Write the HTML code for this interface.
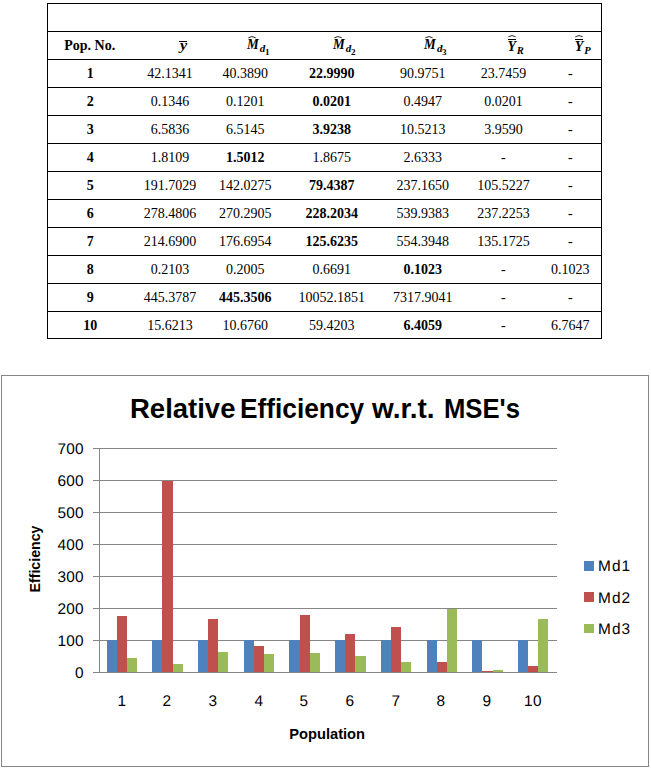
<!DOCTYPE html>
<html><head><meta charset="utf-8"><title>Table and chart</title>
<style>
html,body{margin:0;padding:0;background:#fff;}
body{width:651px;height:769px;position:relative;overflow:hidden;font-family:"Liberation Serif",serif;color:#000;}
.abs{position:absolute;}
.hl{position:absolute;left:47px;width:555px;height:1px;background:#000;}
.vl{position:absolute;top:3px;width:1px;height:336px;background:#000;}
.c{position:absolute;width:100px;margin-left:-50px;text-align:center;font-size:14px;line-height:16px;white-space:nowrap;}
.b{font-weight:bold;}
.bi{font-weight:bold;font-style:italic;}
.ax{position:absolute;font-family:"Liberation Sans",sans-serif;font-size:15.4px;letter-spacing:0.3px;line-height:18px;transform:rotate(0.03deg);transform-origin:50% 50%;color:#000;white-space:nowrap;}
.yl{width:40px;text-align:right;left:44px;}
.xl{width:40px;margin-left:-20px;text-align:center;top:691.66px;}
.g{position:absolute;left:93px;width:464px;height:1px;background:#868686;}
.bar{position:absolute;}
svg{position:absolute;overflow:visible;}
</style></head><body>

<div class="hl" style="top:3px"></div>
<div class="hl" style="top:31px"></div>
<div class="hl" style="top:59px"></div>
<div class="hl" style="top:87px"></div>
<div class="hl" style="top:115px"></div>
<div class="hl" style="top:143px"></div>
<div class="hl" style="top:171px"></div>
<div class="hl" style="top:199px"></div>
<div class="hl" style="top:227px"></div>
<div class="hl" style="top:255px"></div>
<div class="hl" style="top:283px"></div>
<div class="hl" style="top:311px"></div>
<div class="hl" style="top:338px"></div>
<div class="vl" style="left:47px"></div><div class="vl" style="left:601px"></div>
<div class="c b" style="left:89.7px;top:38px">Pop. No.</div>
<div class="abs" style="left:180.20px;top:37.21px;font-size:14.5px;line-height:17px;white-space:nowrap;font-weight:bold;font-style:italic;transform:scaleX(1.12);transform-origin:0 0;">y</div>
<div class="abs" style="left:179px;top:41px;width:8px;height:1px;background:#000"></div>
<div class="abs" style="left:246.90px;top:36.07px;font-size:14px;line-height:17px;white-space:nowrap;font-weight:bold;font-style:italic;transform:scaleX(0.94);transform-origin:0 0;">M</div>
<svg style="left:248.1px;top:34.5px" width="9" height="4" viewBox="0 0 9 4"><path d="M0.3 2.8 Q4 0.3 7.7 2.8" fill="none" stroke="#000" stroke-width="0.85"/></svg>
<div class="abs" style="left:259.80px;top:42.09px;font-size:11px;line-height:13px;white-space:nowrap;font-weight:bold;font-style:italic;">d</div>
<div class="abs" style="left:265.10px;top:47.54px;font-size:7.6px;line-height:9px;white-space:nowrap;font-weight:bold;transform:scaleX(1.2);transform-origin:0 0;">1</div>
<div class="abs" style="left:332.90px;top:36.07px;font-size:14px;line-height:17px;white-space:nowrap;font-weight:bold;font-style:italic;transform:scaleX(0.94);transform-origin:0 0;">M</div>
<svg style="left:334.1px;top:34.5px" width="9" height="4" viewBox="0 0 9 4"><path d="M0.3 2.8 Q4 0.3 7.7 2.8" fill="none" stroke="#000" stroke-width="0.85"/></svg>
<div class="abs" style="left:345.80px;top:42.09px;font-size:11px;line-height:13px;white-space:nowrap;font-weight:bold;font-style:italic;">d</div>
<div class="abs" style="left:351.10px;top:47.54px;font-size:7.6px;line-height:9px;white-space:nowrap;font-weight:bold;transform:scaleX(1.2);transform-origin:0 0;">2</div>
<div class="abs" style="left:424.00px;top:36.07px;font-size:14px;line-height:17px;white-space:nowrap;font-weight:bold;font-style:italic;transform:scaleX(0.94);transform-origin:0 0;">M</div>
<svg style="left:425.2px;top:34.5px" width="9" height="4" viewBox="0 0 9 4"><path d="M0.3 2.8 Q4 0.3 7.7 2.8" fill="none" stroke="#000" stroke-width="0.85"/></svg>
<div class="abs" style="left:436.90px;top:42.09px;font-size:11px;line-height:13px;white-space:nowrap;font-weight:bold;font-style:italic;">d</div>
<div class="abs" style="left:442.20px;top:47.54px;font-size:7.6px;line-height:9px;white-space:nowrap;font-weight:bold;transform:scaleX(1.2);transform-origin:0 0;">3</div>
<div class="abs" style="left:507.40px;top:37.77px;font-size:14px;line-height:17px;white-space:nowrap;font-weight:bold;font-style:italic;">Y</div>
<div class="abs" style="left:508.0px;top:39px;width:8px;height:1px;background:#000"></div>
<svg style="left:508.0px;top:33.9px" width="9" height="4" viewBox="0 0 9 4"><path d="M0.3 2.8 Q4 0.3 7.7 2.8" fill="none" stroke="#000" stroke-width="0.85"/></svg>
<div class="abs" style="left:516.80px;top:44.46px;font-size:10.5px;line-height:13px;white-space:nowrap;font-weight:bold;font-style:italic;">R</div>
<div class="abs" style="left:574.80px;top:37.77px;font-size:14px;line-height:17px;white-space:nowrap;font-weight:bold;font-style:italic;">Y</div>
<div class="abs" style="left:575.4px;top:39px;width:8px;height:1px;background:#000"></div>
<svg style="left:575.4px;top:33.9px" width="9" height="4" viewBox="0 0 9 4"><path d="M0.3 2.8 Q4 0.3 7.7 2.8" fill="none" stroke="#000" stroke-width="0.85"/></svg>
<div class="abs" style="left:584.20px;top:44.46px;font-size:10.5px;line-height:13px;white-space:nowrap;font-weight:bold;font-style:italic;">P</div>
<div class="c b" style="left:90.3px;top:66px">1</div>
<div class="c" style="left:169.9px;top:66px">42.1341</div>
<div class="c" style="left:245.2px;top:66px">40.3890</div>
<div class="c b" style="left:331.7px;top:66px">22.9990</div>
<div class="c" style="left:422.7px;top:66px">90.9751</div>
<div class="c" style="left:503.4px;top:66px">23.7459</div>
<div class="c" style="left:570.3px;top:66px">-</div>
<div class="c b" style="left:90.3px;top:94px">2</div>
<div class="c" style="left:169.9px;top:94px">0.1346</div>
<div class="c" style="left:245.2px;top:94px">0.1201</div>
<div class="c b" style="left:331.7px;top:94px">0.0201</div>
<div class="c" style="left:422.7px;top:94px">0.4947</div>
<div class="c" style="left:503.4px;top:94px">0.0201</div>
<div class="c" style="left:570.3px;top:94px">-</div>
<div class="c b" style="left:90.3px;top:122px">3</div>
<div class="c" style="left:169.9px;top:122px">6.5836</div>
<div class="c" style="left:245.2px;top:122px">6.5145</div>
<div class="c b" style="left:331.7px;top:122px">3.9238</div>
<div class="c" style="left:422.7px;top:122px">10.5213</div>
<div class="c" style="left:503.4px;top:122px">3.9590</div>
<div class="c" style="left:570.3px;top:122px">-</div>
<div class="c b" style="left:90.3px;top:150px">4</div>
<div class="c" style="left:169.9px;top:150px">1.8109</div>
<div class="c b" style="left:245.2px;top:150px">1.5012</div>
<div class="c" style="left:331.7px;top:150px">1.8675</div>
<div class="c" style="left:422.7px;top:150px">2.6333</div>
<div class="c" style="left:503.4px;top:150px">-</div>
<div class="c" style="left:570.3px;top:150px">-</div>
<div class="c b" style="left:90.3px;top:178px">5</div>
<div class="c" style="left:169.9px;top:178px">191.7029</div>
<div class="c" style="left:245.2px;top:178px">142.0275</div>
<div class="c b" style="left:331.7px;top:178px">79.4387</div>
<div class="c" style="left:422.7px;top:178px">237.1650</div>
<div class="c" style="left:503.4px;top:178px">105.5227</div>
<div class="c" style="left:570.3px;top:178px">-</div>
<div class="c b" style="left:90.3px;top:206px">6</div>
<div class="c" style="left:169.9px;top:206px">278.4806</div>
<div class="c" style="left:245.2px;top:206px">270.2905</div>
<div class="c b" style="left:331.7px;top:206px">228.2034</div>
<div class="c" style="left:422.7px;top:206px">539.9383</div>
<div class="c" style="left:503.4px;top:206px">237.2253</div>
<div class="c" style="left:570.3px;top:206px">-</div>
<div class="c b" style="left:90.3px;top:234px">7</div>
<div class="c" style="left:169.9px;top:234px">214.6900</div>
<div class="c" style="left:245.2px;top:234px">176.6954</div>
<div class="c b" style="left:331.7px;top:234px">125.6235</div>
<div class="c" style="left:422.7px;top:234px">554.3948</div>
<div class="c" style="left:503.4px;top:234px">135.1725</div>
<div class="c" style="left:570.3px;top:234px">-</div>
<div class="c b" style="left:90.3px;top:262px">8</div>
<div class="c" style="left:169.9px;top:262px">0.2103</div>
<div class="c" style="left:245.2px;top:262px">0.2005</div>
<div class="c" style="left:331.7px;top:262px">0.6691</div>
<div class="c b" style="left:422.7px;top:262px">0.1023</div>
<div class="c" style="left:503.4px;top:262px">-</div>
<div class="c" style="left:570.3px;top:262px">0.1023</div>
<div class="c b" style="left:90.3px;top:290px">9</div>
<div class="c" style="left:169.9px;top:290px">445.3787</div>
<div class="c b" style="left:245.2px;top:290px">445.3506</div>
<div class="c" style="left:331.7px;top:290px">10052.1851</div>
<div class="c" style="left:422.7px;top:290px">7317.9041</div>
<div class="c" style="left:503.4px;top:290px">-</div>
<div class="c" style="left:570.3px;top:290px">-</div>
<div class="c b" style="left:90.3px;top:318px">10</div>
<div class="c" style="left:169.9px;top:318px">15.6213</div>
<div class="c" style="left:245.2px;top:318px">10.6760</div>
<div class="c" style="left:331.7px;top:318px">59.4203</div>
<div class="c b" style="left:422.7px;top:318px">6.4059</div>
<div class="c" style="left:503.4px;top:318px">-</div>
<div class="c" style="left:570.3px;top:318px">6.7647</div>
<div class="abs" style="left:1px;top:375px;width:646px;height:390px;border:1px solid #868686;"></div>
<div class="g" style="top:672px"></div>
<div class="ax yl" style="top:663.66px">0</div>
<div class="g" style="top:640px"></div>
<div class="ax yl" style="top:631.66px">100</div>
<div class="g" style="top:608px"></div>
<div class="ax yl" style="top:599.66px">200</div>
<div class="g" style="top:576px"></div>
<div class="ax yl" style="top:567.66px">300</div>
<div class="g" style="top:544px"></div>
<div class="ax yl" style="top:535.66px">400</div>
<div class="g" style="top:512px"></div>
<div class="ax yl" style="top:503.66px">500</div>
<div class="g" style="top:480px"></div>
<div class="ax yl" style="top:471.66px">600</div>
<div class="g" style="top:448px"></div>
<div class="ax yl" style="top:439.66px">700</div>
<div class="abs" style="left:99px;top:448px;width:1px;height:225px;background:#868686;"></div>
<div class="bar" style="left:107px;top:640px;width:10px;height:32px;background:#4F81BD"></div>
<div class="bar" style="left:117px;top:616px;width:10px;height:56px;background:#C0504D"></div>
<div class="bar" style="left:127px;top:658px;width:10px;height:14px;background:#9BBB59"></div>
<div class="ax xl" style="left:121.5px">1</div>
<div class="bar" style="left:152px;top:640px;width:10px;height:32px;background:#4F81BD"></div>
<div class="bar" style="left:162px;top:481px;width:11px;height:191px;background:#C0504D"></div>
<div class="bar" style="left:173px;top:664px;width:10px;height:8px;background:#9BBB59"></div>
<div class="ax xl" style="left:167.2px">2</div>
<div class="bar" style="left:198px;top:640px;width:10px;height:32px;background:#4F81BD"></div>
<div class="bar" style="left:208px;top:619px;width:10px;height:53px;background:#C0504D"></div>
<div class="bar" style="left:218px;top:652px;width:10px;height:20px;background:#9BBB59"></div>
<div class="ax xl" style="left:212.9px">3</div>
<div class="bar" style="left:244px;top:640px;width:10px;height:32px;background:#4F81BD"></div>
<div class="bar" style="left:254px;top:646px;width:10px;height:26px;background:#C0504D"></div>
<div class="bar" style="left:264px;top:654px;width:10px;height:18px;background:#9BBB59"></div>
<div class="ax xl" style="left:258.7px">4</div>
<div class="bar" style="left:289px;top:640px;width:11px;height:32px;background:#4F81BD"></div>
<div class="bar" style="left:300px;top:615px;width:10px;height:57px;background:#C0504D"></div>
<div class="bar" style="left:310px;top:653px;width:10px;height:19px;background:#9BBB59"></div>
<div class="ax xl" style="left:304.3px">5</div>
<div class="bar" style="left:335px;top:640px;width:10px;height:32px;background:#4F81BD"></div>
<div class="bar" style="left:345px;top:634px;width:10px;height:38px;background:#C0504D"></div>
<div class="bar" style="left:355px;top:656px;width:11px;height:16px;background:#9BBB59"></div>
<div class="ax xl" style="left:350.1px">6</div>
<div class="bar" style="left:381px;top:640px;width:10px;height:32px;background:#4F81BD"></div>
<div class="bar" style="left:391px;top:627px;width:10px;height:45px;background:#C0504D"></div>
<div class="bar" style="left:401px;top:662px;width:10px;height:10px;background:#9BBB59"></div>
<div class="ax xl" style="left:395.8px">7</div>
<div class="bar" style="left:427px;top:640px;width:10px;height:32px;background:#4F81BD"></div>
<div class="bar" style="left:437px;top:662px;width:10px;height:10px;background:#C0504D"></div>
<div class="bar" style="left:447px;top:609px;width:10px;height:63px;background:#9BBB59"></div>
<div class="ax xl" style="left:441.4px">8</div>
<div class="bar" style="left:472px;top:640px;width:10px;height:32px;background:#4F81BD"></div>
<div class="bar" style="left:482px;top:671px;width:11px;height:1px;background:#C0504D"></div>
<div class="bar" style="left:493px;top:670px;width:10px;height:2px;background:#9BBB59"></div>
<div class="ax xl" style="left:487.2px">9</div>
<div class="bar" style="left:518px;top:640px;width:10px;height:32px;background:#4F81BD"></div>
<div class="bar" style="left:528px;top:666px;width:10px;height:6px;background:#C0504D"></div>
<div class="bar" style="left:538px;top:619px;width:10px;height:53px;background:#9BBB59"></div>
<div class="ax xl" style="left:532.9px">10</div>
<div class="abs" style="left:130.30px;top:392.64px;font-family:'Liberation Sans',sans-serif;font-size:27px;line-height:32px;white-space:nowrap;font-weight:bold;transform-origin:0 0;transform:scaleX(1.018);">Relative</div>
<div class="abs" style="left:239.90px;top:392.64px;font-family:'Liberation Sans',sans-serif;font-size:27px;line-height:32px;white-space:nowrap;font-weight:bold;transform-origin:0 0;transform:scaleX(0.973);">Efficiency</div>
<div class="abs" style="left:371.50px;top:392.64px;font-family:'Liberation Sans',sans-serif;font-size:27px;line-height:32px;white-space:nowrap;font-weight:bold;transform-origin:0 0;transform:scaleX(1.035);">w.r.t.</div>
<div class="abs" style="left:443.80px;top:392.64px;font-family:'Liberation Sans',sans-serif;font-size:27px;line-height:32px;white-space:nowrap;font-weight:bold;transform-origin:0 0;transform:scaleX(0.95);">MSE's</div>
<div class="abs" style="left:289.20px;top:724.81px;font-family:'Liberation Sans',sans-serif;font-size:14.7px;line-height:18px;white-space:nowrap;font-weight:bold;">Population</div>
<div class="abs" style="left:-1.4px;top:551.3px;width:72px;text-align:center;transform:rotate(-90deg) scaleX(0.965);transform-origin:36px 8px;font-family:'Liberation Sans',sans-serif;font-weight:bold;font-size:14.7px;line-height:16px;white-space:nowrap;">Efficiency</div>
<div class="abs" style="left:584px;top:561px;width:10px;height:10px;background:#4F81BD"></div>
<div class="ax" style="left:598.3px;top:556.66px;letter-spacing:1.1px">Md1</div>
<div class="abs" style="left:584px;top:592px;width:10px;height:10px;background:#C0504D"></div>
<div class="ax" style="left:598.3px;top:588.66px;letter-spacing:1.1px">Md2</div>
<div class="abs" style="left:584px;top:624px;width:10px;height:9px;background:#9BBB59"></div>
<div class="ax" style="left:598.3px;top:619.66px;letter-spacing:1.1px">Md3</div>
</body></html>
